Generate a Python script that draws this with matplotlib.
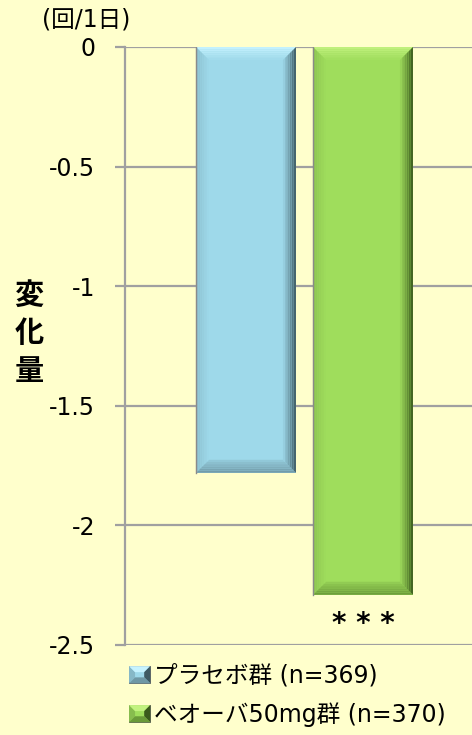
import matplotlib
matplotlib.use("Agg")
import matplotlib.pyplot as plt
from matplotlib.patches import Polygon, Patch
from matplotlib.legend_handler import HandlerPatch
import matplotlib.patches as mpatches

plt.rcParams['font.family'] = ['DejaVu Sans', 'Noto Sans CJK JP']

# Data
groups = ["プラセボ群 (n=369)", "ベオーバ50mg群 (n=370)"]
values = [-1.78, -2.29]
bar_colors = ["#9ED9EA", "#9FDD5C"]
light_colors = ["#C6F3FF", "#C2F27F"]
dark_colors = ["#3E5A63", "#3A5A1C"]
bottom_colors = ["#6F98A5", "#6A9A39"]
yticks = [0, -0.5, -1, -1.5, -2, -2.5]
ytick_labels = ["0", "-0.5", "-1", "-1.5", "-2", "-2.5"]
unit_label = "(回/1日)"
ylabel_text = "変化量"
sig_label = "* * *"

BG = "#FFFFCC"
GRID = "#A0A0A0"

W, H = 472, 735
fig = plt.figure(figsize=(W / 100, H / 100), dpi=100, facecolor=BG)
ax = fig.add_axes([125 / W, 1 - 645 / H, (W - 125) / W, (645 - 47) / H])
ax.set_facecolor(BG)

x = [0, 1]
width = 0.855
ax.set_xlim(-1.034, 1.932)
ax.set_ylim(-2.5, 0)

# horizontal grid
for t in yticks:
    ax.axhline(t, color=GRID, lw=1.6, zorder=1)

bars = ax.bar(x, values, width=width, color=bar_colors, zorder=3, linewidth=0)

# bevelled edges on each bar
px_x = (W - 125) / (1.932 + 1.034)   # pixels per x unit
px_y = (645 - 47) / 2.5              # pixels per y unit
bx = 13 / px_x
by = 13 / px_y


def mix(c1, c2, t):
    a = matplotlib.colors.to_rgb(c1)
    b = matplotlib.colors.to_rgb(c2)
    return tuple(a[k] * (1 - t) + b[k] * t for k in range(3))


for b, lc, dc, btm in zip(bars, light_colors, dark_colors, bottom_colors):
    fc = b.get_facecolor()
    x0, x1 = b.get_x(), b.get_x() + b.get_width()
    ytop, ybot = 0, b.get_height()
    n = 6
    for i in range(n):
        f0, f1 = i / n, (i + 1) / n
        tmid = (f0 + f1) / 2
        # top facet, light towards the edge
        ax.add_patch(Polygon([(x0 + bx * f0, ytop - by * f0), (x1 - bx * f0, ytop - by * f0),
                              (x1 - bx * f1, ytop - by * f1), (x0 + bx * f1, ytop - by * f1)],
                             closed=True, color=mix(lc, fc, tmid), lw=0, zorder=4))
        # bottom facet
        ax.add_patch(Polygon([(x0 + bx * f0, ybot + by * f0), (x1 - bx * f0, ybot + by * f0),
                              (x1 - bx * f1, ybot + by * f1), (x0 + bx * f1, ybot + by * f1)],
                             closed=True, color=mix(btm, fc, tmid * 0.8), lw=0, zorder=4))
        # right facet, dark towards the edge
        ax.add_patch(Polygon([(x1 - bx * f0, ytop - by * f0), (x1 - bx * f1, ytop - by * f1),
                              (x1 - bx * f1, ybot + by * f1), (x1 - bx * f0, ybot + by * f0)],
                             closed=True, color=mix(dc, fc, tmid), lw=0, zorder=4))
        # left facet, barely shaded
        ax.add_patch(Polygon([(x0 + bx * f0, ytop - by * f0), (x0 + bx * f1, ytop - by * f1),
                              (x0 + bx * f1, ybot + by * f1), (x0 + bx * f0, ybot + by * f0)],
                             closed=True, color=mix(mix(fc, "#000000", 0.12), fc, tmid), lw=0, zorder=4))
    ax.plot([x0, x0], [ytop, ybot], color="#8A8A8A", lw=1.0, zorder=5)

ax.text(x[1], values[1] - 0.065, sig_label, ha="center", va="top",
        fontsize=20, fontweight="bold", color="black")

for s in ["top", "right", "bottom"]:
    ax.spines[s].set_visible(False)
ax.spines["left"].set_color(GRID)
ax.spines["left"].set_linewidth(1.6)
ax.set_xticks([])
ax.set_yticks(yticks)
ax.set_yticklabels(ytick_labels, fontsize=17)
ax.tick_params(axis="y", length=7.5, width=1.6, color=GRID, pad=14)

fig.text(86 / W, 1 - 19 / H, unit_label, ha="center", va="center", fontsize=17)
for i, ch in enumerate(ylabel_text):
    fig.text(29 / W, 1 - (296 + 38 * i) / H, ch, ha="center", va="center",
             fontsize=21, fontweight="bold")


class BevelSquare(HandlerPatch):
    def create_artists(self, legend, orig_handle, xdescent, ydescent,
                       width, height, fontsize, trans):
        w, h = width, height
        x0, y0 = -xdescent, -ydescent
        base = mpatches.Rectangle((x0, y0), w, h, facecolor=orig_handle.get_facecolor(),
                                  edgecolor="#555555", lw=0.6, transform=trans)
        e = min(w, h) * 0.35
        top = Polygon([(x0, y0 + h), (x0 + w, y0 + h), (x0 + w - e, y0 + h - e), (x0 + e, y0 + h - e)],
                      closed=True, color=orig_handle.light, lw=0, transform=trans)
        right = Polygon([(x0 + w, y0 + h), (x0 + w, y0), (x0 + w - e, y0 + e), (x0 + w - e, y0 + h - e)],
                        closed=True, color=orig_handle.dark, lw=0, transform=trans)
        bottom = Polygon([(x0, y0), (x0 + w, y0), (x0 + w - e, y0 + e), (x0 + e, y0 + e)],
                         closed=True, color=orig_handle.bottom, lw=0, transform=trans)
        left = Polygon([(x0, y0), (x0, y0 + h), (x0 + e, y0 + h - e), (x0 + e, y0 + e)],
                       closed=True, color=mix(orig_handle.get_facecolor(), "#000000", 0.15),
                       lw=0, transform=trans)
        return [base, left, top, right, bottom]


handles = []
for fc, lc, dc, btm in zip(bar_colors, light_colors, dark_colors, bottom_colors):
    p = Patch(facecolor=fc)
    p.light, p.dark, p.bottom = lc, dc, btm
    handles.append(p)

leg = fig.legend(handles, groups, loc="upper left", bbox_to_anchor=(129 / W, 1 - 664 / H),
                 frameon=False, fontsize=17, handlelength=0.9, handleheight=0.75,
                 handletextpad=0.15, labelspacing=0.6, borderpad=0, borderaxespad=0,
                 handler_map={Patch: BevelSquare()})

fig.savefig("out.png", dpi=100, facecolor=BG)
